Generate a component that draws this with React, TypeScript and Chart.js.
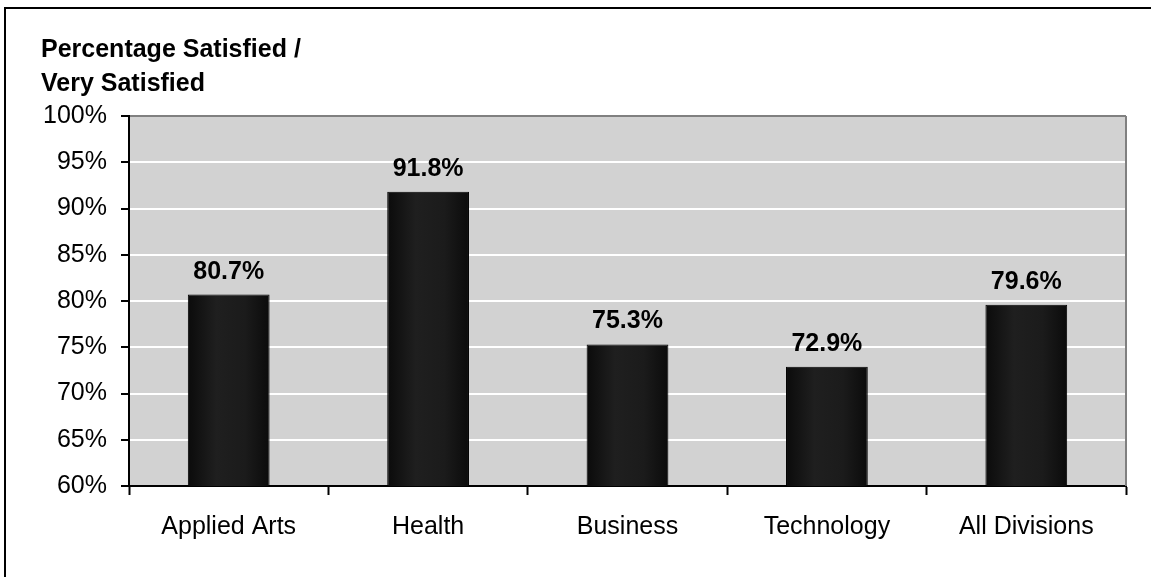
import React, { useEffect, useRef } from "react";
import { Chart, registerables } from "chart.js";

Chart.register(...registerables);

const categories = ["Applied Arts", "Health", "Business", "Technology", "All Divisions"];
const satisfiedValues = [80.7, 91.8, 75.3, 72.9, 79.6];
const titleLines = ["Percentage Satisfied /", "Very Satisfied"];
const yMin = 60;
const yMax = 100;
const yStep = 5;

const FONT = "'Liberation Sans', Arial, Helvetica, sans-serif";

export default function App() {
  const canvasRef = useRef<HTMLCanvasElement | null>(null);

  useEffect(() => {
    document.body.style.margin = "0";
    const canvas = canvasRef.current;
    if (!canvas) return;

    const plotBg = {
      id: "plotBg",
      beforeDraw(chart: any) {
        const { ctx, chartArea: a } = chart;
        ctx.save();
        ctx.fillStyle = "#d2d2d2";
        ctx.fillRect(a.left, a.top, a.right - a.left, a.bottom - a.top);
        ctx.restore();
      },
      afterDraw(chart: any) {
        const { ctx, chartArea: a } = chart;
        ctx.save();
        ctx.strokeStyle = "#808080";
        ctx.lineWidth = 2;
        ctx.beginPath();
        ctx.moveTo(a.right, a.top);
        ctx.lineTo(a.right, a.bottom);
        ctx.stroke();
        ctx.fillStyle = "#000";
        ctx.font = `bold 25px ${FONT}`;
        ctx.textAlign = "left";
        ctx.textBaseline = "alphabetic";
        ctx.fillText(titleLines[0], 41, 57);
        ctx.fillText(titleLines[1], 41, 91);
        ctx.restore();
      },
    };

    const valueLabels = {
      id: "valueLabels",
      afterDatasetsDraw(chart: any) {
        const { ctx } = chart;
        const meta = chart.getDatasetMeta(0);
        ctx.save();
        ctx.fillStyle = "#000";
        ctx.font = `bold 25px ${FONT}`;
        ctx.textAlign = "center";
        ctx.textBaseline = "alphabetic";
        meta.data.forEach((bar: any, i: number) => {
          ctx.fillText(satisfiedValues[i].toFixed(1) + "%", bar.x, bar.y - 16);
        });
        ctx.restore();
      },
    };

    const chart = new Chart(canvas, {
      type: "bar",
      data: {
        labels: categories,
        datasets: [
          {
            data: satisfiedValues,
            backgroundColor: (c: any) => {
              const ch = c.chart;
              const xs = ch.scales && ch.scales.x;
              if (!xs || c.dataIndex === undefined) return "#161616";
              const cx = xs.getPixelForValue(c.dataIndex);
              if (!Number.isFinite(cx)) return "#161616";
              const w = 82;
              const g = ch.ctx.createLinearGradient(cx - w / 2, 0, cx + w / 2, 0);
              g.addColorStop(0, "#0b0b0b");
              g.addColorStop(0.35, "#1f1f1f");
              g.addColorStop(0.7, "#1b1b1b");
              g.addColorStop(1, "#0b0b0b");
              return g;
            },
            borderColor: "#000",
            borderWidth: 1,
            categoryPercentage: 1,
            barPercentage: 0.41,
          },
        ],
      },
      options: {
        responsive: false,
        animation: false,
        devicePixelRatio: 1,
        layout: { padding: { top: 116, right: 25, left: 0, bottom: 0 } },
        plugins: {
          legend: { display: false },
          tooltip: { enabled: false },
          title: { display: false },
        },
        scales: {
          x: {
            afterFit(scale: any) {
              scale.height = 91;
            },
            grid: {
              offset: true,
              drawOnChartArea: false,
              drawTicks: true,
              tickLength: 9,
              tickColor: "#000",
              tickWidth: 2,
            },
            border: { color: "#000", width: 2 },
            ticks: {
              color: "#000",
              font: { family: FONT, size: 25 },
              padding: 17,
              autoSkip: false,
              maxRotation: 0,
            },
          },
          y: {
            min: yMin,
            max: yMax,
            afterFit(scale: any) {
              scale.width = 129;
            },
            grid: {
              color: (c: any) => (c.tick && c.tick.value === yMax ? "#808080" : "#ffffff"),
              lineWidth: 2,
              tickColor: "#000",
              tickLength: 8,
              tickWidth: 2,
            },
            border: { color: "#000", width: 2 },
            ticks: {
              stepSize: yStep,
              color: "#000",
              font: { family: FONT, size: 25 },
              padding: 14,
              callback: (v: any) => `${v}%`,
            },
          },
        },
      },
      plugins: [plotBg, valueLabels],
    } as any);

    return () => chart.destroy();
  }, []);

  return (
    <div
      style={{
        position: "fixed",
        left: 0,
        top: 0,
        width: 1151,
        height: 577,
        overflow: "hidden",
        background: "#fff",
      }}
    >
      <div
        style={{
          position: "absolute",
          left: 4,
          top: 7,
          width: 1400,
          height: 800,
          borderLeft: "2px solid #000",
          borderTop: "2px solid #000",
        }}
      />
      <canvas
        ref={canvasRef}
        width={1151}
        height={577}
        style={{ position: "absolute", left: 0, top: 0, width: 1151, height: 577 }}
      />
    </div>
  );
}
